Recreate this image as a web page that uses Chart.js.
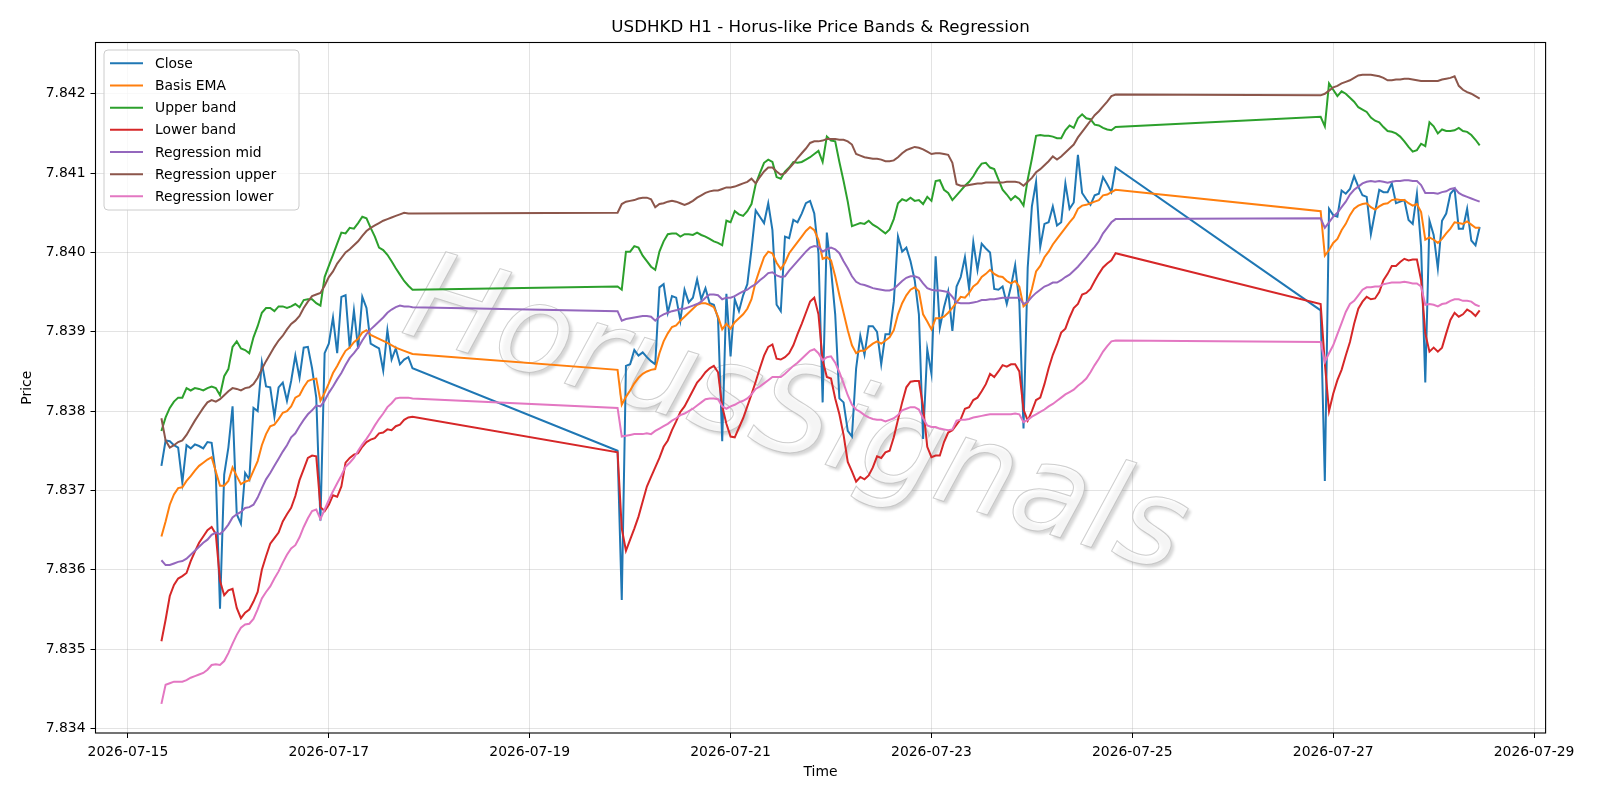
<!DOCTYPE html>
<html>
<head>
<meta charset="utf-8">
<script src="https://cdn.jsdelivr.net/npm/chart.js@4.4.1/dist/chart.umd.min.js"></script>
<style>
html,body{margin:0;padding:0;background:#ffffff;}
#wrap{width:1600px;height:800px;position:relative;}
</style>
</head>
<body>
<div id="wrap"><canvas id="c" width="1600" height="800"></canvas></div>
<script>
// ---- time axis: hours after 2026-07-15 00:00, hourly bars per trading session
const sessionStartHours = [8, 117, 285];   // 07-15 08:00, 07-19 21:00, 07-26 21:00
const sessionLengths = [61, 120, 39];
const tickHours = [0, 48, 96, 144, 192, 240, 288, 336];
const tickLabels = ['2026-07-15','2026-07-17','2026-07-19','2026-07-21','2026-07-23','2026-07-25','2026-07-27','2026-07-29'];
const yTicks = [7.834, 7.835, 7.836, 7.837, 7.838, 7.839, 7.840, 7.841, 7.842];

const close = [
7.83731,7.83763,7.83762,7.83757,7.83754,7.83710,7.83757,7.83753,7.83758,7.83756,
7.83753,7.83761,7.83760,7.83720,7.83551,7.83720,7.83754,7.83806,7.83670,7.83658,
7.83722,7.83714,7.83804,7.83800,7.83861,7.83831,7.83830,7.83793,7.83830,7.83836,
7.83813,7.83838,7.83870,7.83842,7.83880,7.83881,7.83854,7.83817,7.83662,7.83873,
7.83885,7.83918,7.83873,7.83944,7.83946,7.83879,7.83927,7.83879,7.83944,7.83930,
7.83885,7.83882,7.83879,7.83851,7.83902,7.83865,7.83879,7.83859,7.83865,7.83868,
7.83854,
7.83750,7.83562,7.83857,7.83859,7.83877,7.83870,7.83874,7.83868,7.83863,7.83859,
7.83956,7.83960,7.83924,7.83945,7.83943,7.83914,7.83953,7.83937,7.83943,7.83966,
7.83941,7.83955,7.83936,7.83934,7.83917,7.83762,7.83948,7.83869,7.83941,7.83926,
7.83946,7.83960,7.84004,7.84053,7.84045,7.84037,7.84062,7.84028,7.83934,7.83926,
7.84020,7.84018,7.84041,7.84038,7.84049,7.84062,7.84065,7.84049,7.83999,7.83811,
7.84025,7.83979,7.83922,7.83816,7.83811,7.83775,7.83768,7.83854,7.83895,7.83871,
7.83907,7.83907,7.83900,7.83859,7.83897,7.83897,7.83938,7.84020,7.84001,7.84006,
7.83989,7.83965,7.83922,7.83765,7.83878,7.83847,7.83995,7.83905,7.83931,7.83951,
7.83901,7.83957,7.83969,7.83994,7.83954,7.84013,7.83978,7.84011,7.84005,7.84000,
7.83954,7.83953,7.83957,7.83935,7.83957,7.83984,7.83937,7.83778,7.83981,7.84058,
7.84089,7.84007,7.84036,7.84038,7.84058,7.84034,7.84038,7.84087,7.84055,7.84063,
7.84123,7.84075,7.84067,7.84060,7.84072,7.84074,7.84095,7.84086,7.84076,7.84107,
7.83927,7.83712,7.84055,7.84047,7.84045,7.84078,7.84074,7.84080,7.84096,7.84083,
7.84072,7.84070,7.84023,7.84051,7.84079,7.84076,7.84076,7.84087,7.84062,7.84064,
7.84066,7.84041,7.84036,7.84074,7.84007,7.83836,7.84040,7.84022,7.83980,7.84040,
7.84049,7.84074,7.84080,7.84030,7.84030,7.84055,7.84015,7.84009,7.84032
];

const basisEma = [
7.83642,7.83661,7.83682,7.83695,7.83703,7.83704,7.83712,7.83718,7.83725,7.83731,
7.83735,7.83739,7.83742,7.83724,7.83706,7.83706,7.83712,7.83729,7.83718,7.83708,
7.83711,7.83713,7.83725,7.83737,7.83757,7.83771,7.83781,7.83783,7.83790,7.83798,
7.83800,7.83806,7.83817,7.83820,7.83830,7.83838,7.83840,7.83841,7.83813,7.83823,
7.83835,7.83848,7.83857,7.83867,7.83876,7.83880,7.83887,7.83891,7.83899,7.83902,
7.83896,null,7.83891,null,7.83886,null,7.83880,null,7.83876,null,
7.83872,
7.83852,7.83808,7.83818,7.83826,7.83835,7.83842,7.83847,7.83850,7.83852,7.83853,
7.83873,7.83888,7.83898,7.83906,7.83908,7.83914,7.83919,7.83924,7.83929,7.83934,
7.83936,7.83936,7.83934,7.83931,7.83919,7.83903,7.83910,7.83904,7.83912,7.83917,
7.83922,7.83929,7.83941,7.83963,7.83979,7.83994,7.84001,7.83999,7.83987,7.83979,
7.83987,7.83999,7.84006,7.84013,7.84020,7.84027,7.84032,7.84028,7.84016,7.83992,
7.83994,7.83990,7.83970,7.83946,7.83924,7.83902,7.83883,7.83873,7.83876,7.83876,
7.83881,7.83885,7.83888,7.83885,7.83889,7.83893,7.83902,7.83922,7.83936,7.83946,
7.83953,7.83956,7.83951,7.83922,7.83913,7.83903,7.83917,7.83917,7.83919,7.83924,
7.83930,null,7.83944,7.83943,7.83949,7.83957,7.83961,7.83969,7.83973,7.83978,
7.83973,7.83970,7.83969,7.83964,7.83961,7.83964,7.83957,7.83932,7.83937,7.83954,
7.83976,7.83983,7.83994,7.84001,7.84010,7.84017,7.84024,7.84031,7.84038,7.84044,
7.84055,7.84059,7.84060,7.84062,7.84064,7.84066,7.84072,7.84073,7.84076,7.84079,
7.84052,7.83996,7.84003,7.84012,7.84017,7.84028,7.84036,7.84047,7.84055,7.84059,
7.84061,7.84062,7.84057,7.84054,7.84058,7.84061,7.84062,7.84066,7.84067,7.84066,
7.84066,7.84062,7.84059,7.84061,7.84051,7.84016,7.84019,7.84016,7.84012,7.84017,
7.84024,7.84030,7.84038,7.84037,7.84036,7.84039,7.84035,7.84031,7.84031
];

const upperBand = [
7.83775,7.83792,7.83804,7.83812,7.83817,7.83817,7.83829,7.83826,7.83829,7.83828,
7.83826,7.83829,7.83831,7.83829,7.83820,7.83844,7.83853,7.83881,7.83888,7.83879,
7.83877,7.83873,7.83893,7.83907,7.83924,7.83930,7.83930,7.83926,7.83932,7.83932,
7.83930,7.83932,7.83935,7.83931,7.83940,7.83941,7.83941,7.83936,7.83933,7.83969,
7.83983,7.83997,7.84011,7.84025,7.84024,7.84031,7.84030,7.84037,7.84045,7.84043,
7.84031,7.84020,7.84006,7.84003,7.83997,7.83989,7.83980,7.83972,7.83964,7.83958,
7.83953,
7.83957,7.83953,7.84001,7.84001,7.84008,7.84006,7.83996,7.83989,7.83982,7.83978,
7.84001,7.84014,7.84023,7.84024,7.84024,7.84020,7.84023,7.84023,7.84022,7.84025,
7.84022,7.84020,7.84017,7.84014,7.84012,7.84009,7.84040,7.84038,7.84052,7.84048,
7.84046,7.84052,7.84061,7.84086,7.84100,7.84113,7.84117,7.84114,7.84095,7.84093,
7.84102,7.84107,7.84114,7.84113,7.84114,7.84117,7.84120,7.84124,7.84128,7.84114,
7.84146,7.84141,7.84140,7.84114,7.84090,7.84064,7.84033,7.84035,7.84037,7.84036,
7.84040,7.84035,7.84032,7.84028,7.84024,7.84029,7.84042,7.84062,7.84067,7.84065,
7.84069,7.84065,7.84066,7.84061,7.84070,7.84065,7.84090,7.84091,7.84079,7.84075,
7.84066,7.84072,7.84078,7.84084,7.84089,7.84096,7.84105,7.84112,7.84113,7.84107,
7.84105,7.84092,7.84079,7.84073,7.84066,7.84071,7.84067,7.84059,7.84092,7.84118,
7.84147,7.84148,7.84147,7.84147,7.84146,7.84144,7.84144,7.84154,7.84160,7.84157,
7.84169,7.84174,7.84169,7.84168,7.84161,7.84160,7.84157,7.84155,7.84154,7.84158,
7.84171,7.84159,7.84213,7.84205,7.84197,7.84203,7.84200,7.84195,7.84190,7.84183,
7.84180,7.84177,7.84170,7.84166,7.84164,7.84158,7.84153,7.84152,7.84150,7.84146,
7.84140,7.84133,7.84127,7.84129,7.84137,7.84134,7.84164,7.84159,7.84150,7.84155,
7.84153,7.84153,7.84154,7.84157,7.84153,7.84152,7.84148,7.84142,7.84135
];

const lowerBand = [
7.83510,7.83537,7.83567,7.83581,7.83589,7.83592,7.83596,7.83611,7.83623,7.83634,
7.83642,7.83650,7.83654,7.83645,7.83586,7.83568,7.83574,7.83576,7.83552,7.83539,
7.83546,7.83550,7.83560,7.83572,7.83600,7.83617,7.83633,7.83640,7.83647,7.83661,
7.83670,7.83678,7.83693,7.83713,7.83727,7.83741,7.83744,7.83743,7.83679,7.83674,
7.83682,7.83694,7.83692,7.83705,7.83735,7.83741,7.83745,7.83747,7.83755,7.83761,
7.83764,7.83766,7.83772,7.83773,7.83777,7.83776,7.83781,7.83783,7.83789,7.83792,
7.83793,
7.83748,7.83652,7.83624,7.83638,7.83652,7.83667,7.83686,7.83705,7.83717,7.83729,
7.83741,7.83755,7.83763,7.83776,7.83787,7.83799,7.83806,7.83816,7.83826,7.83836,
7.83842,7.83849,7.83854,7.83857,7.83849,7.83806,7.83784,7.83768,7.83767,7.83779,
7.83791,7.83806,7.83821,7.83837,7.83854,7.83870,7.83881,7.83884,7.83866,7.83865,
7.83868,7.83873,7.83883,7.83897,7.83910,7.83924,7.83938,7.83943,7.83922,7.83864,
7.83843,7.83841,7.83816,7.83796,7.83770,7.83736,7.83724,7.83711,7.83717,7.83714,
7.83719,7.83729,7.83743,7.83741,7.83748,7.83750,7.83767,7.83789,7.83811,7.83830,
7.83837,7.83838,7.83838,7.83806,7.83755,7.83742,7.83744,7.83744,7.83761,7.83773,
7.83776,7.83783,7.83790,7.83803,7.83805,7.83814,7.83817,7.83825,7.83834,7.83847,
7.83843,7.83850,7.83858,7.83856,7.83859,7.83859,7.83850,7.83802,7.83788,7.83800,
7.83814,7.83817,7.83834,7.83854,7.83871,7.83884,7.83899,7.83904,7.83918,7.83930,
7.83935,7.83947,7.83949,7.83954,7.83964,7.83973,7.83981,7.83986,7.83990,7.83999,
7.83935,7.83860,7.83800,7.83822,7.83839,7.83852,7.83870,7.83887,7.83910,7.83929,
7.83938,7.83944,7.83941,7.83942,7.83950,7.83965,7.83973,7.83983,7.83983,7.83988,
7.83992,7.83990,7.83991,7.83991,7.83965,7.83898,7.83875,7.83880,7.83875,7.83880,
7.83898,7.83915,7.83924,7.83919,7.83922,7.83928,7.83925,7.83920,7.83927
];

const regMid = [
7.83612,7.83606,7.83606,7.83608,7.83610,7.83611,7.83614,7.83619,7.83624,7.83629,
7.83634,7.83638,7.83644,7.83647,7.83645,7.83650,7.83657,7.83666,7.83670,7.83673,
7.83678,7.83679,7.83682,7.83691,7.83703,7.83714,7.83722,7.83731,7.83740,7.83749,
7.83757,7.83767,7.83772,7.83781,7.83789,7.83796,7.83801,7.83807,7.83806,7.83813,
7.83823,7.83831,7.83840,7.83848,7.83858,7.83867,7.83873,7.83880,7.83889,7.83897,
7.83903,7.83908,7.83913,7.83918,7.83924,7.83928,7.83931,7.83933,7.83932,7.83932,
7.83931,
7.83926,7.83914,7.83916,7.83917,7.83918,7.83919,7.83920,7.83920,7.83919,7.83914,
7.83919,7.83922,7.83924,7.83926,7.83927,7.83929,7.83929,7.83931,7.83933,7.83935,
7.83938,7.83943,7.83947,7.83947,7.83946,7.83941,7.83943,7.83943,7.83945,7.83948,
7.83951,7.83953,7.83957,7.83960,7.83965,7.83969,7.83974,7.83975,7.83971,7.83969,
7.83970,7.83977,7.83983,7.83989,7.83995,7.84001,7.84006,7.84008,7.84007,7.84001,
7.84004,7.84006,7.84004,7.83999,7.83989,7.83980,7.83970,7.83963,7.83960,7.83959,
7.83957,7.83955,7.83954,7.83953,7.83952,7.83952,7.83954,7.83959,7.83964,7.83968,
7.83970,7.83970,7.83968,7.83961,7.83955,7.83953,7.83952,7.83952,7.83951,7.83950,
7.83944,7.83937,7.83936,7.83936,7.83936,7.83937,7.83938,7.83940,7.83940,7.83941,
7.83941,7.83942,7.83943,7.83943,7.83943,7.83943,7.83943,7.83935,7.83938,7.83944,
7.83949,7.83953,7.83957,7.83959,7.83962,7.83962,7.83965,7.83969,7.83972,7.83977,
7.83982,7.83988,7.83994,7.84001,7.84007,7.84014,7.84024,7.84031,7.84038,7.84042,
7.84043,7.84031,7.84038,7.84045,7.84050,7.84057,7.84064,7.84073,7.84079,7.84083,
7.84087,7.84089,7.84090,7.84089,7.84090,7.84089,7.84088,7.84089,7.84090,7.84090,
7.84091,7.84091,7.84090,7.84090,7.84085,7.84075,7.84075,7.84075,7.84074,7.84076,
7.84077,7.84080,7.84081,7.84075,7.84072,7.84070,7.84068,7.84066,7.84064
];

const regUpper = [
7.83791,7.83763,7.83754,7.83757,7.83761,7.83763,7.83770,7.83779,7.83788,7.83796,
7.83804,7.83811,7.83814,7.83812,7.83815,7.83820,7.83825,7.83829,7.83828,7.83826,
7.83829,7.83830,7.83834,7.83842,7.83853,7.83863,7.83872,7.83881,7.83889,7.83895,
7.83903,7.83910,7.83914,7.83920,7.83930,7.83938,7.83945,7.83947,7.83949,7.83958,
7.83969,7.83976,7.83986,7.83993,7.84000,7.84004,7.84009,7.84014,7.84021,7.84027,
7.84031,7.84034,7.84037,7.84040,7.84042,7.84044,7.84046,7.84048,7.84050,7.84049,
7.84049,
7.84050,7.84061,7.84064,7.84065,7.84066,7.84068,7.84069,7.84069,7.84067,7.84057,
7.84061,7.84062,7.84064,7.84065,7.84064,7.84062,7.84060,7.84062,7.84065,7.84069,
7.84072,7.84075,7.84077,7.84078,7.84078,7.84080,7.84082,7.84082,7.84083,7.84085,
7.84087,7.84089,7.84093,7.84087,7.84095,7.84102,7.84107,7.84107,7.84102,7.84098,
7.84100,7.84106,7.84112,7.84119,7.84125,7.84131,7.84138,7.84140,7.84140,7.84141,
7.84143,7.84143,7.84143,7.84142,7.84142,7.84140,7.84136,7.84124,7.84122,7.84120,
7.84119,7.84118,7.84118,7.84117,7.84115,7.84115,7.84116,7.84120,7.84125,7.84129,
7.84131,7.84133,7.84132,7.84130,7.84127,7.84124,7.84125,7.84125,7.84124,7.84123,
7.84113,7.84086,7.84084,7.84084,7.84085,7.84086,7.84087,7.84087,7.84088,7.84088,
7.84088,7.84088,7.84088,7.84089,7.84089,7.84089,7.84088,7.84084,7.84089,7.84094,
7.84101,7.84105,7.84110,7.84115,7.84121,7.84117,7.84121,7.84126,7.84131,7.84136,
7.84145,7.84152,7.84159,7.84166,7.84173,7.84178,7.84184,7.84190,7.84197,7.84199,
7.84198,7.84200,7.84204,7.84208,7.84210,7.84213,7.84215,7.84217,7.84220,7.84223,
7.84224,7.84224,7.84224,7.84223,7.84222,7.84220,7.84217,7.84217,7.84218,7.84218,
7.84219,7.84219,7.84218,7.84217,7.84216,7.84216,7.84216,7.84216,7.84216,7.84218,
7.84219,7.84220,7.84222,7.84210,7.84205,7.84202,7.84200,7.84197,7.84194
];

const regLower = [
7.83431,7.83455,7.83457,7.83459,7.83459,7.83459,7.83461,7.83464,7.83466,7.83468,
7.83470,7.83474,7.83480,7.83481,7.83480,7.83485,7.83495,7.83507,7.83518,7.83527,
7.83531,7.83532,7.83538,7.83550,7.83564,7.83572,7.83579,7.83589,7.83598,7.83609,
7.83619,7.83627,7.83631,7.83641,7.83654,7.83665,7.83674,7.83676,7.83664,7.83676,
7.83688,7.83699,7.83709,7.83719,7.83730,7.83735,7.83741,7.83750,7.83758,7.83765,
7.83773,7.83782,7.83790,7.83797,7.83805,7.83810,7.83816,7.83817,7.83817,7.83817,
7.83816,
7.83804,7.83768,7.83769,7.83770,7.83771,7.83771,7.83771,7.83772,7.83771,7.83775,
7.83778,7.83781,7.83784,7.83788,7.83791,7.83795,7.83797,7.83800,7.83803,7.83807,
7.83811,7.83815,7.83816,7.83816,7.83815,7.83806,7.83803,7.83806,7.83808,7.83811,
7.83813,7.83816,7.83821,7.83828,7.83831,7.83835,7.83839,7.83843,7.83843,7.83843,
7.83847,7.83852,7.83857,7.83861,7.83866,7.83871,7.83876,7.83878,7.83873,7.83864,
7.83868,7.83869,7.83861,7.83849,7.83835,7.83820,7.83808,7.83802,7.83799,7.83795,
7.83792,7.83790,7.83789,7.83789,7.83787,7.83789,7.83791,7.83795,7.83801,7.83803,
7.83805,7.83805,7.83802,7.83791,7.83782,7.83780,7.83780,7.83778,7.83777,7.83776,
7.83777,7.83788,7.83789,7.83789,7.83790,7.83792,7.83793,7.83794,7.83795,7.83796,
7.83796,7.83796,7.83796,7.83796,7.83796,7.83797,7.83796,7.83786,7.83789,7.83793,
7.83796,7.83799,7.83802,7.83806,7.83809,7.83813,7.83817,7.83821,7.83824,7.83827,
7.83832,7.83836,7.83841,7.83849,7.83858,7.83866,7.83875,7.83882,7.83888,7.83889,
7.83887,7.83862,7.83873,7.83883,7.83897,7.83911,7.83925,7.83935,7.83939,7.83946,
7.83953,7.83956,7.83956,7.83957,7.83957,7.83960,7.83961,7.83962,7.83962,7.83962,
7.83963,7.83962,7.83961,7.83961,7.83957,7.83934,7.83935,7.83934,7.83932,7.83935,
7.83936,7.83939,7.83941,7.83941,7.83939,7.83939,7.83938,7.83934,7.83932
];

const seriesNames = ['Close','Basis EMA','Upper band','Lower band','Regression mid','Regression upper','Regression lower'];
const seriesColors = ['#1f77b4','#ff7f0e','#2ca02c','#d62728','#9467bd','#8c564b','#e377c2'];
const seriesValues = [close, basisEma, upperBand, lowerBand, regMid, regUpper, regLower];

// build the hourly x positions of the bars
const hours = [];
sessionStartHours.forEach((s, i) => { for (let k = 0; k < sessionLengths[i]; k++) hours.push(s + k); });

const FONT = "'DejaVu Sans', 'Liberation Sans', sans-serif";

const decor = {
  id: 'decor',
  beforeDatasetsDraw(chart) {
    const ctx = chart.ctx;
    ctx.save();
    ctx.translate(785, 452);
    ctx.rotate(17.3 * Math.PI / 180);
    ctx.font = 'italic 124px ' + FONT;
    ctx.textAlign = 'center';
    ctx.textBaseline = 'alphabetic';
    ctx.shadowColor = 'rgba(0,0,0,0.22)';
    ctx.shadowOffsetX = 3;
    ctx.shadowOffsetY = 3;
    ctx.shadowBlur = 3;
    ctx.fillStyle = 'rgba(255,255,255,0.75)';
    ctx.fillText('HorusSignals', 0, 0);
    ctx.shadowColor = 'transparent';
    ctx.lineWidth = 1;
    ctx.strokeStyle = 'rgba(185,185,185,0.7)';
    ctx.strokeText('HorusSignals', 0, 0);
    ctx.restore();
  },
  afterDatasetsDraw(chart) {
    const {ctx, chartArea: a} = chart;
    ctx.save();
    ctx.strokeStyle = '#000';
    ctx.lineWidth = 1.1;
    ctx.strokeRect(a.left, a.top, a.right - a.left, a.bottom - a.top);
    ctx.restore();
  },
  afterDraw(chart) {
    const {ctx, chartArea: a} = chart;
    ctx.save();
    // title
    ctx.fillStyle = '#000';
    ctx.font = '16.7px ' + FONT;
    ctx.textAlign = 'center';
    ctx.textBaseline = 'alphabetic';
    ctx.fillText('USDHKD H1 - Horus-like Price Bands & Regression', (a.left + a.right) / 2, 32);
    // legend
    const bx = 104, by = 50, bw = 195, bh = 160, r = 4;
    ctx.beginPath();
    ctx.moveTo(bx + r, by);
    ctx.arcTo(bx + bw, by, bx + bw, by + bh, r);
    ctx.arcTo(bx + bw, by + bh, bx, by + bh, r);
    ctx.arcTo(bx, by + bh, bx, by, r);
    ctx.arcTo(bx, by, bx + bw, by, r);
    ctx.closePath();
    ctx.fillStyle = 'rgba(255,255,255,0.8)';
    ctx.fill();
    ctx.strokeStyle = '#cccccc';
    ctx.lineWidth = 1;
    ctx.stroke();
    ctx.font = '13.9px ' + FONT;
    ctx.textAlign = 'left';
    ctx.textBaseline = 'middle';
    seriesNames.forEach((name, i) => {
      const y = 63.3 + i * 22.17;
      ctx.strokeStyle = seriesColors[i];
      ctx.lineWidth = 2;
      ctx.beginPath();
      ctx.moveTo(110, y);
      ctx.lineTo(143, y);
      ctx.stroke();
      ctx.fillStyle = '#000';
      ctx.fillText(name, 155, y + 1);
    });
    ctx.restore();
  }
};

new Chart(document.getElementById('c'), {
  type: 'line',
  data: {
    datasets: seriesNames.map((name, i) => ({
      label: name,
      data: hours.map((h, k) => ({x: h, y: seriesValues[i][k]})),
      borderColor: seriesColors[i],
      backgroundColor: seriesColors[i],
      borderWidth: 2,
      pointRadius: 0,
      pointHoverRadius: 0,
      tension: 0,
      fill: false,
      spanGaps: true,
      order: seriesNames.length - i
    }))
  },
  options: {
    responsive: false,
    animation: false,
    devicePixelRatio: 1,
    layout: {padding: {top: 42.5, right: 54.4, left: 0, bottom: 0}},
    plugins: {legend: {display: false}, title: {display: false}, tooltip: {enabled: false}},
    scales: {
      x: {
        type: 'linear',
        min: -7.75,
        max: 338.75,
        afterBuildTicks: s => { s.ticks = tickHours.map(v => ({value: v})); },
        afterFit: s => { s.height = 67; },
        ticks: {
          callback: (v, i) => tickLabels[i],
          color: '#000',
          font: {family: FONT, size: 13.9},
          padding: 6,
          maxRotation: 0,
          autoSkip: false
        },
        grid: {color: 'rgba(176,176,176,0.35)', lineWidth: 1, tickLength: 5, tickColor: '#000', drawTicks: true},
        border: {display: false},
        title: {display: true, text: 'Time', color: '#000', font: {family: FONT, size: 13.9}, padding: {top: 0, bottom: 19}}
      },
      y: {
        type: 'linear',
        min: 7.833943,
        max: 7.842646,
        afterBuildTicks: s => { s.ticks = yTicks.map(v => ({value: v})); },
        afterFit: s => { s.width = 95.5; },
        ticks: {
          callback: (v, i) => yTicks[i].toFixed(3),
          color: '#000',
          font: {family: FONT, size: 13.9},
          padding: 5
        },
        grid: {color: 'rgba(176,176,176,0.35)', lineWidth: 1, tickLength: 5, tickColor: '#000', drawTicks: true},
        border: {display: false},
        title: {display: true, text: 'Price', color: '#000', font: {family: FONT, size: 13.9}, padding: {top: 19, bottom: 0}}
      }
    }
  },
  plugins: [decor]
});
</script>
</body>
</html>
